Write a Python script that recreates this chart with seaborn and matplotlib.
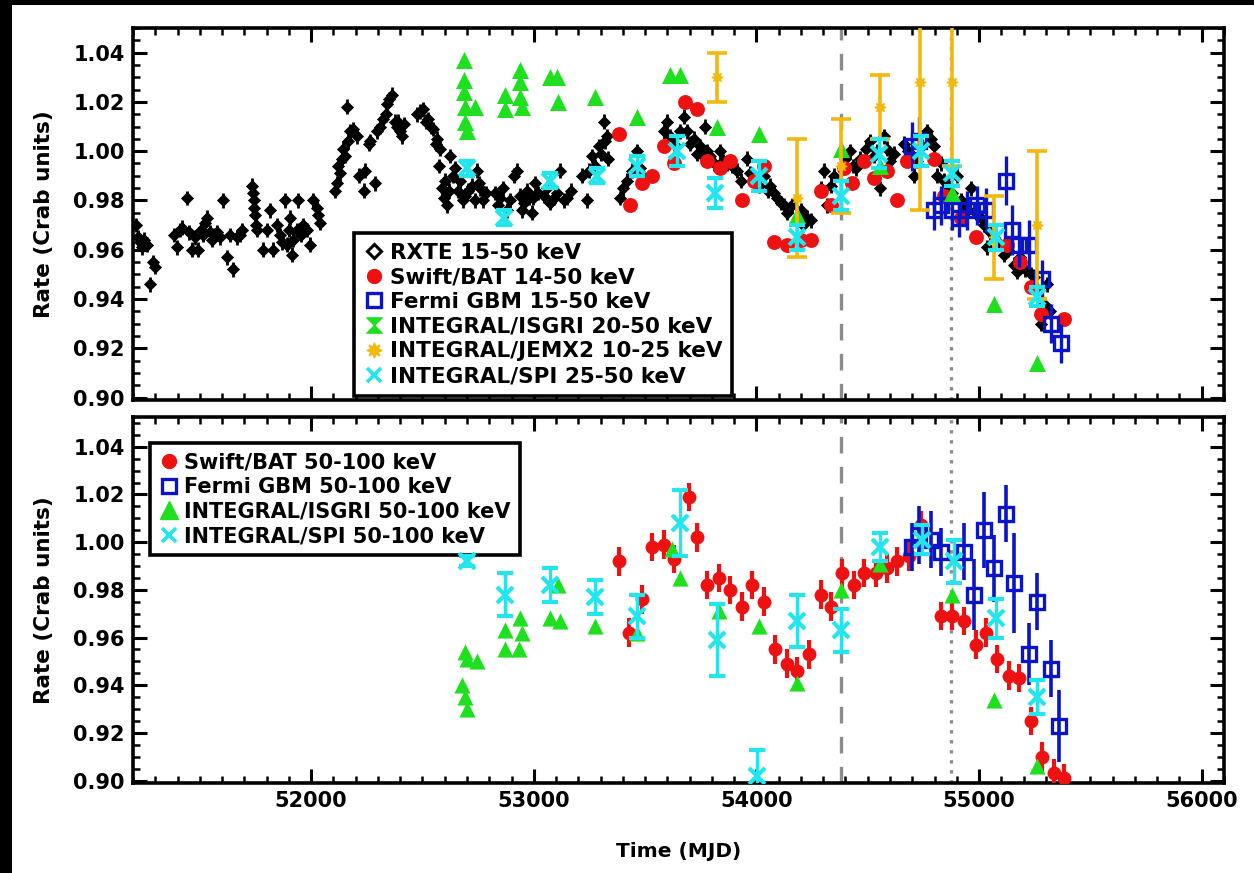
import numpy as np
import matplotlib
matplotlib.use("Agg")
import matplotlib.pyplot as plt
import matplotlib.ticker as mticker
from matplotlib.lines import Line2D
from matplotlib.path import Path
from matplotlib.patches import Rectangle
import seaborn as sns

sns.set_style("ticks")
plt.rcParams.update({
    "font.family": ["DejaVu Sans"],
    "font.weight": "bold",
    "axes.labelweight": "bold",
    "axes.linewidth": 2.4,
    "xtick.direction": "in",
    "ytick.direction": "in",
    "text.color": "black",
    "axes.labelcolor": "black",
    "xtick.color": "black",
    "ytick.color": "black",
})

BLACK = "#000000"
RED = "#ee1111"
BLUE = "#0a14c8"
GREEN = "#1fe01f"
GOLD = "#f2b90c"
CYAN = "#22e5ee"
GRAY = "#8c8c8c"

# ── data: upper panel (15-50 keV) ────────────────────────────────────────────
rxte_t = [51215, 51222, 51230, 51240, 51250, 51262, 51276, 51290, 51300, 51385,
          51398, 51410, 51420, 51443, 51452, 51465, 51478, 51492, 51505, 51515,
          51524, 51533, 51545, 51554, 51566, 51576, 51590, 51605, 51621, 51636,
          51650, 51666, 51680, 51689, 51735, 51739, 51742, 51745, 51748, 51752,
          51758, 51784, 51800, 51816, 51829, 51846, 51860, 51870, 51883, 51891,
          51900, 51906, 51912, 51920, 51936, 51942, 51955, 51964, 51980, 51996,
          52010, 52025, 52032, 52040, 52108, 52115, 52122, 52130, 52140, 52145,
          52150, 52160, 52165, 52175, 52190, 52205, 52215, 52236, 52243, 52260,
          52265, 52288, 52295, 52310, 52325, 52335, 52340, 52350, 52363, 52375,
          52385, 52392, 52400, 52408, 52415, 52475, 52490, 52504, 52515, 52526,
          52538, 52549, 52560, 52565, 52575, 52580, 52587, 52595, 52603, 52610,
          52618, 52625, 52635, 52647, 52660, 52670, 52680, 52692, 52705, 52722,
          52735, 52745, 52752, 52760, 52774, 52785, 52827, 52840, 52849, 52864,
          52880, 52895, 52909, 52924, 52939, 52947, 52958, 52969, 52980, 52992,
          52998, 53007, 53020, 53044, 53060, 53075, 53089, 53105, 53119, 53134,
          53149, 53165, 53216, 53239, 53250, 53261, 53275, 53291, 53300, 53314,
          53322, 53329, 53335, 53389, 53400, 53419, 53440, 53464, 53478, 53493,
          53583, 53599, 53610, 53630, 53658, 53673, 53688, 53700, 53718, 53735,
          53748, 53760, 53770, 53780, 53793, 53810, 53838, 53850, 53868, 53890,
          53913, 53930, 53958, 53970, 53988, 54010, 54033, 54050, 54063, 54080,
          54093, 54110, 54123, 54138, 54160, 54198, 54210, 54220, 54228, 54243,
          54290, 54303, 54318, 54333, 54350, 54400, 54422, 54435, 54445, 54467,
          54490, 54512, 54530, 54542, 54557, 54572, 54587, 54600, 54620, 54662,
          54680, 54707, 54720, 54745, 54767, 54782, 54797, 54812, 54830, 54842,
          54860, 54880, 54902, 54918, 54932, 54950, 54962, 54985, 55007, 55020,
          55036, 55050, 55066, 55085, 55110, 55130, 55156, 55170, 55186, 55205,
          55231, 55246, 55260, 55276, 55290, 55306, 55320]
rxte_r = [0.970, 0.965, 0.963, 0.961, 0.964, 0.962, 0.946, 0.955, 0.953, 0.966,
          0.961, 0.968, 0.969, 0.981, 0.967, 0.960, 0.965, 0.960, 0.968, 0.966,
          0.971, 0.973, 0.967, 0.964, 0.966, 0.967, 0.965, 0.980, 0.957, 0.966,
          0.952, 0.965, 0.966, 0.968, 0.986, 0.983, 0.980, 0.977, 0.974, 0.970,
          0.968, 0.960, 0.968, 0.976, 0.960, 0.970, 0.966, 0.963, 0.980, 0.962,
          0.968, 0.973, 0.958, 0.964, 0.968, 0.980, 0.966, 0.970, 0.968, 0.962,
          0.980, 0.977, 0.974, 0.971, 0.984, 0.987, 0.994, 0.991, 0.997, 1.001,
          0.998, 1.018, 1.004, 1.008, 1.009, 1.006, 0.990, 0.984, 0.992, 1.003,
          1.004, 0.987, 1.008, 1.010, 1.013, 1.015, 1.019, 1.021, 1.023, 1.012,
          1.010, 1.012, 1.008, 1.006, 1.011, 1.015, 1.016, 1.017, 1.012, 1.013,
          1.010, 1.009, 1.003, 1.005, 0.994, 1.001, 0.985, 0.981, 0.988, 0.978,
          0.984, 0.998, 0.990, 0.993, 0.984, 0.988, 0.980, 0.982, 0.984, 0.986,
          0.980, 0.992, 0.987, 0.985, 0.980, 0.983, 0.983, 0.978, 0.981, 0.985,
          0.976, 0.980, 0.990, 0.992, 0.982, 0.976, 0.979, 0.984, 0.981, 0.975,
          0.981, 0.987, 0.983, 0.982, 0.985, 0.979, 0.981, 0.983, 0.992, 0.980,
          0.981, 0.984, 0.990, 0.980, 0.992, 0.998, 0.994, 1.002, 0.999, 1.012,
          1.004, 1.006, 0.997, 0.981, 0.985, 0.988, 0.992, 1.000, 0.993, 0.989,
          1.008, 1.012, 1.006, 1.003, 1.008, 1.014, 1.008, 1.003, 1.005, 0.999,
          1.002, 0.998, 1.010, 1.000, 0.998, 0.995, 1.000, 0.996, 0.995, 0.994,
          0.992, 0.988, 0.997, 0.991, 0.988, 0.986, 0.990, 0.984, 0.986, 0.983,
          0.981, 0.979, 0.978, 0.975, 0.978, 0.976, 0.970, 0.973, 0.973, 0.972,
          0.985, 0.992, 0.978, 0.986, 0.990, 0.997, 1.000, 0.994, 0.993, 0.997,
          1.001, 1.004, 0.998, 1.000, 0.985, 1.006, 1.001, 0.996, 0.999, 1.003,
          1.000, 0.990, 0.996, 1.002, 1.008, 1.005, 1.002, 0.990, 0.995, 0.988,
          0.986, 0.983, 0.990, 0.980, 0.978, 0.976, 0.985, 0.975, 0.973, 0.970,
          0.961, 0.967, 0.965, 0.963, 0.958, 0.960, 0.954, 0.951, 0.957, 0.952,
          0.950, 0.949, 0.944, 0.930, 0.938, 0.946, 0.935]

bat_lo_t = [53381, 53434, 53486, 53531, 53583, 53628, 53681, 53733, 53778, 53838,
            53883, 53935, 53988, 54033, 54078, 54138, 54198, 54243, 54288, 54333,
            54393, 54430, 54481, 54527, 54587, 54632, 54677, 54797, 54842, 54917,
            54984, 55126, 55186, 55231, 55276, 55381]
bat_lo_r = [1.007, 0.978, 0.987, 0.990, 1.002, 0.995, 1.020, 1.017, 0.996, 0.993,
            0.996, 0.980, 0.988, 0.994, 0.963, 0.962, 0.964, 0.964, 0.984, 0.978,
            0.993, 0.987, 0.996, 0.989, 0.992, 0.980, 0.996, 0.997, 0.982, 0.973,
            0.965, 0.962, 0.955, 0.945, 0.934, 0.932]

gbm_lo_t = [54700, 54730, 54797, 54830, 54880, 54910, 54947, 54992, 55030, 55119,
            55149, 55180, 55225, 55284, 55321, 55366]
gbm_lo_r = [1.002, 1.004, 0.976, 0.978, 0.976, 0.973, 0.976, 0.978, 0.976, 0.988,
            0.968, 0.962, 0.962, 0.948, 0.930, 0.922]
gbm_lo_e = [0.010, 0.010, 0.008, 0.008, 0.008, 0.008, 0.008, 0.008, 0.009, 0.010,
            0.010, 0.009, 0.010, 0.008, 0.008, 0.008]

isgri_lo_t = [52685, 52685, 52685, 52692, 52692, 52700, 52737, 52872, 52872, 52939,
              52939, 52939, 52947, 53074, 53104, 53111, 53276, 53464, 53613, 53658,
              53823, 54010, 54183, 54378, 54557, 54880, 55066, 55258]
isgri_lo_r = [1.037, 1.029, 1.024, 1.018, 1.012, 1.008, 1.018, 1.023, 1.017, 1.033,
              1.028, 1.022, 1.018, 1.030, 1.030, 1.020, 1.022, 1.014, 1.031, 1.031,
              1.010, 1.007, 0.974, 1.001, 0.994, 0.983, 0.938, 0.914]

jemx_t = [53823, 54183, 54378, 54557, 54734, 54880, 55066, 55260]
jemx_r = [1.030, 0.981, 0.994, 1.018, 1.028, 1.028, 0.965, 0.970]
jemx_e = [0.010, 0.024, 0.019, 0.013, 0.052, 0.034, 0.017, 0.030]

spi_lo_t = [52700, 52865, 53074, 53284, 53464, 53644, 53815, 54010, 54183, 54378,
            54550, 54737, 54880, 55074, 55260]
spi_lo_r = [0.993, 0.973, 0.988, 0.990, 0.994, 1.000, 0.983, 0.990, 0.965, 0.982,
            0.999, 1.000, 0.991, 0.965, 0.941]
spi_lo_e = [0.003, 0.003, 0.003, 0.003, 0.004, 0.006, 0.006, 0.006, 0.005, 0.006,
            0.006, 0.006, 0.005, 0.005, 0.004]

# ── data: lower panel (50-100 keV) ───────────────────────────────────────────
bat_hi_t = [53381, 53426, 53486, 53531, 53584, 53629, 53696, 53733, 53778, 53830,
            53883, 53935, 53980, 54033, 54085, 54138, 54183, 54235, 54288, 54333,
            54385, 54437, 54482, 54535, 54587, 54632, 54685, 54737, 54827, 54880,
            54932, 54984, 55029, 55081, 55134, 55179, 55231, 55284, 55336, 55381]
bat_hi_r = [0.992, 0.962, 0.976, 0.998, 0.999, 0.993, 1.019, 1.002, 0.982, 0.985,
            0.980, 0.973, 0.982, 0.975, 0.955, 0.949, 0.946, 0.953, 0.978, 0.973,
            0.987, 0.982, 0.987, 0.987, 0.989, 0.992, 0.994, 1.007, 0.969, 0.969,
            0.967, 0.957, 0.962, 0.951, 0.944, 0.943, 0.925, 0.910, 0.903, 0.901]

gbm_hi_t = [54700, 54730, 54782, 54827, 54932, 54977, 55022, 55066, 55119, 55156,
            55224, 55261, 55321, 55358]
gbm_hi_r = [0.998, 1.003, 1.001, 0.996, 0.996, 0.978, 1.005, 0.989, 1.012, 0.983,
            0.953, 0.975, 0.947, 0.923]
gbm_hi_e = [0.010, 0.012, 0.012, 0.010, 0.012, 0.015, 0.016, 0.014, 0.012, 0.021,
            0.013, 0.012, 0.012, 0.015]

isgri_hi_t = [52677, 52692, 52692, 52700, 52700, 52745, 52872, 52872, 52932, 52939,
              52947, 53074, 53111, 53119, 53276, 53464, 53621, 53658, 53830, 54010,
              54183, 54378, 54557, 54880, 55066, 55260]
isgri_hi_r = [0.940, 0.954, 0.935, 0.951, 0.930, 0.950, 0.963, 0.955, 0.955, 0.968,
              0.962, 0.968, 0.982, 0.967, 0.965, 0.962, 0.997, 0.985, 0.971, 0.965,
              0.941, 0.980, 0.991, 0.978, 0.934, 0.906]

spi_hi_t = [52700, 52872, 53074, 53276, 53464, 53658, 53823, 54003, 54183, 54378,
            54557, 54745, 54888, 55074, 55260]
spi_hi_r = [0.992, 0.978, 0.982, 0.977, 0.969, 1.008, 0.959, 0.902, 0.967, 0.963,
            0.998, 1.001, 0.992, 0.968, 0.935]
spi_hi_e = [0.002, 0.009, 0.007, 0.007, 0.009, 0.014, 0.015, 0.011, 0.011, 0.009,
            0.006, 0.006, 0.009, 0.008, 0.007]

t_dashed = 54380
t_dotted = 54875

top_labels = ["RXTE 15-50 keV", "Swift/BAT 14-50 keV", "Fermi GBM 15-50 keV",
              "INTEGRAL/ISGRI 20-50 keV", "INTEGRAL/JEMX2 10-25 keV",
              "INTEGRAL/SPI 25-50 keV"]
bot_labels = ["Swift/BAT 50-100 keV", "Fermi GBM 50-100 keV",
              "INTEGRAL/ISGRI 50-100 keV", "INTEGRAL/SPI 50-100 keV"]

# hourglass marker used for ISGRI in the upper legend
HOURGLASS = Path([(-1, 1), (1, 1), (-1, -1), (1, -1), (-1, 1)],
                 [Path.MOVETO, Path.LINETO, Path.LINETO, Path.LINETO, Path.CLOSEPOLY])
STAR8 = (8, 1, 0)

# ── figure ───────────────────────────────────────────────────────────────────
W, H = 1254, 873
fig = plt.figure(figsize=(W / 100, H / 100), dpi=100, facecolor="black")
fig.add_artist(Rectangle((12 / W, 0), 1, 1 - 5 / H, transform=fig.transFigure,
                         facecolor="white", edgecolor="none", zorder=-10))

ax1 = fig.add_axes([133 / W, 1 - 400 / H, (1224 - 133) / W, (400 - 28) / H])
ax2 = fig.add_axes([133 / W, 1 - 783 / H, (1224 - 133) / W, (783 - 417) / H])


def style_axis(ax, ylim, show_x):
    ax.set_xlim(51200, 56100)
    ax.set_ylim(*ylim)
    ax.xaxis.set_major_locator(mticker.MultipleLocator(1000))
    ax.xaxis.set_minor_locator(mticker.MultipleLocator(100))
    ax.yaxis.set_major_locator(mticker.MultipleLocator(0.02))
    ax.yaxis.set_minor_locator(mticker.MultipleLocator(0.005))
    ax.yaxis.set_major_formatter(mticker.FormatStrFormatter("%.2f"))
    ax.xaxis.set_major_formatter(mticker.FormatStrFormatter("%d"))
    ax.tick_params(which="major", direction="in", length=10, width=2.2,
                   top=True, right=True, labelsize=15, pad=6, colors="black")
    ax.tick_params(which="minor", direction="in", length=5, width=1.8,
                   top=True, right=True, colors="black")
    ax.tick_params(axis="x", labelbottom=show_x)
    for lab in ax.get_xticklabels() + ax.get_yticklabels():
        lab.set_fontweight("bold")
    for sp in ax.spines.values():
        sp.set_visible(True)
        sp.set_linewidth(2.6)
        sp.set_color("black")
    ax.set_ylabel("Rate (Crab units)", fontsize=15.5, fontweight="bold",
                  labelpad=14, color="black")
    ax.axvline(t_dashed, color=GRAY, lw=2.4, ls=(0, (5, 4)), zorder=1)
    ax.axvline(t_dotted, color=GRAY, lw=2.4, ls=(0, (1, 2)), zorder=1)


def style_legend(leg):
    leg.get_frame().set_linewidth(2.6)
    for txt in leg.get_texts():
        txt.set_fontweight("bold")
        txt.set_color("black")


# ── upper panel ──────────────────────────────────────────────────────────────
ax = ax1
ax.errorbar(rxte_t, rxte_r, yerr=0.003, xerr=12, fmt="none", ecolor=BLACK,
            elinewidth=2, zorder=2)
sns.scatterplot(x=rxte_t, y=rxte_r, marker="D", s=38, color=BLACK,
                edgecolor=BLACK, linewidth=0.5, ax=ax, legend=False, zorder=3)
sns.scatterplot(x=bat_lo_t, y=bat_lo_r, marker="o", s=115, color=RED,
                edgecolor=RED, linewidth=0, ax=ax, legend=False, zorder=4)
ax.errorbar(gbm_lo_t, gbm_lo_r, yerr=gbm_lo_e, fmt="s", ms=10, mfc="none",
            mec=BLUE, mew=2.4, ecolor=BLUE, elinewidth=2.4, zorder=5)
sns.scatterplot(x=isgri_lo_t, y=isgri_lo_r, marker="^", s=150, color=GREEN,
                edgecolor=GREEN, linewidth=0, ax=ax, legend=False, zorder=6)
ax.errorbar(jemx_t, jemx_r, yerr=jemx_e, fmt="none", ecolor=GOLD,
            elinewidth=2.6, capsize=7, capthick=2.6, zorder=7)
sns.scatterplot(x=jemx_t, y=jemx_r, marker=STAR8, s=60, color=GOLD,
                edgecolor=GOLD, linewidth=1, ax=ax, legend=False, zorder=7)
ax.errorbar(spi_lo_t, spi_lo_r, yerr=spi_lo_e, fmt="x", ms=12, mew=3,
            color=CYAN, ecolor=CYAN, elinewidth=2.4, capsize=6, capthick=2.4,
            zorder=8)
style_axis(ax, (0.899, 1.050), show_x=False)

h_top = [
    Line2D([], [], ls="none", marker="D", ms=7, mfc="none", mec=BLACK, mew=2.2),
    Line2D([], [], ls="none", marker="o", ms=10, mfc=RED, mec=RED),
    Line2D([], [], ls="none", marker="s", ms=10, mfc="none", mec=BLUE, mew=2.4),
    Line2D([], [], ls="none", marker=HOURGLASS, ms=11, mfc=GREEN, mec=GREEN),
    Line2D([], [], ls="none", marker=STAR8, ms=11, mfc=GOLD, mec=GOLD),
    Line2D([], [], ls="none", marker="x", ms=10, mec=CYAN, mew=2.6),
]
leg = ax.legend(h_top, top_labels, loc="lower left", bbox_to_anchor=(0.203, 0.011),
                borderaxespad=0, fontsize=15.5, frameon=True, fancybox=False,
                edgecolor=BLACK, framealpha=1, handlelength=0.9, handletextpad=0.3,
                labelspacing=0.22, borderpad=0.45)
style_legend(leg)

# ── lower panel ──────────────────────────────────────────────────────────────
ax = ax2
ax.errorbar(bat_hi_t, bat_hi_r, yerr=0.006, fmt="none", ecolor=RED,
            elinewidth=3, zorder=3)
sns.scatterplot(x=bat_hi_t, y=bat_hi_r, marker="o", s=100, color=RED,
                edgecolor=RED, linewidth=0, ax=ax, legend=False, zorder=4)
ax.errorbar(gbm_hi_t, gbm_hi_r, yerr=gbm_hi_e, fmt="s", ms=10, mfc="none",
            mec=BLUE, mew=2.4, ecolor=BLUE, elinewidth=2.6, zorder=5)
sns.scatterplot(x=isgri_hi_t, y=isgri_hi_r, marker="^", s=135, color=GREEN,
                edgecolor=GREEN, linewidth=0, ax=ax, legend=False, zorder=6)
ax.errorbar(spi_hi_t, spi_hi_r, yerr=spi_hi_e, fmt="x", ms=12, mew=3,
            color=CYAN, ecolor=CYAN, elinewidth=2.4, capsize=6, capthick=2.4,
            zorder=7)
style_axis(ax, (0.899, 1.0525), show_x=True)
ax.set_xlabel("Time (MJD)", fontsize=14.5, fontweight="bold", labelpad=22,
              color="black")

h_bot = [
    Line2D([], [], ls="none", marker="o", ms=10, mfc=RED, mec=RED),
    Line2D([], [], ls="none", marker="s", ms=10, mfc="none", mec=BLUE, mew=2.4),
    Line2D([], [], ls="none", marker="^", ms=13, mfc=GREEN, mec=GREEN),
    Line2D([], [], ls="none", marker="x", ms=10, mec=CYAN, mew=2.6),
]
leg2 = ax.legend(h_bot, bot_labels, loc="upper left", bbox_to_anchor=(0.0156, 0.929),
                 borderaxespad=0, fontsize=15, frameon=True, fancybox=False,
                 edgecolor=BLACK, framealpha=1, handlelength=0.9, handletextpad=0.3,
                 labelspacing=0.22, borderpad=0.45)
style_legend(leg2)

fig.savefig("out.png", dpi=100, facecolor=fig.get_facecolor())
